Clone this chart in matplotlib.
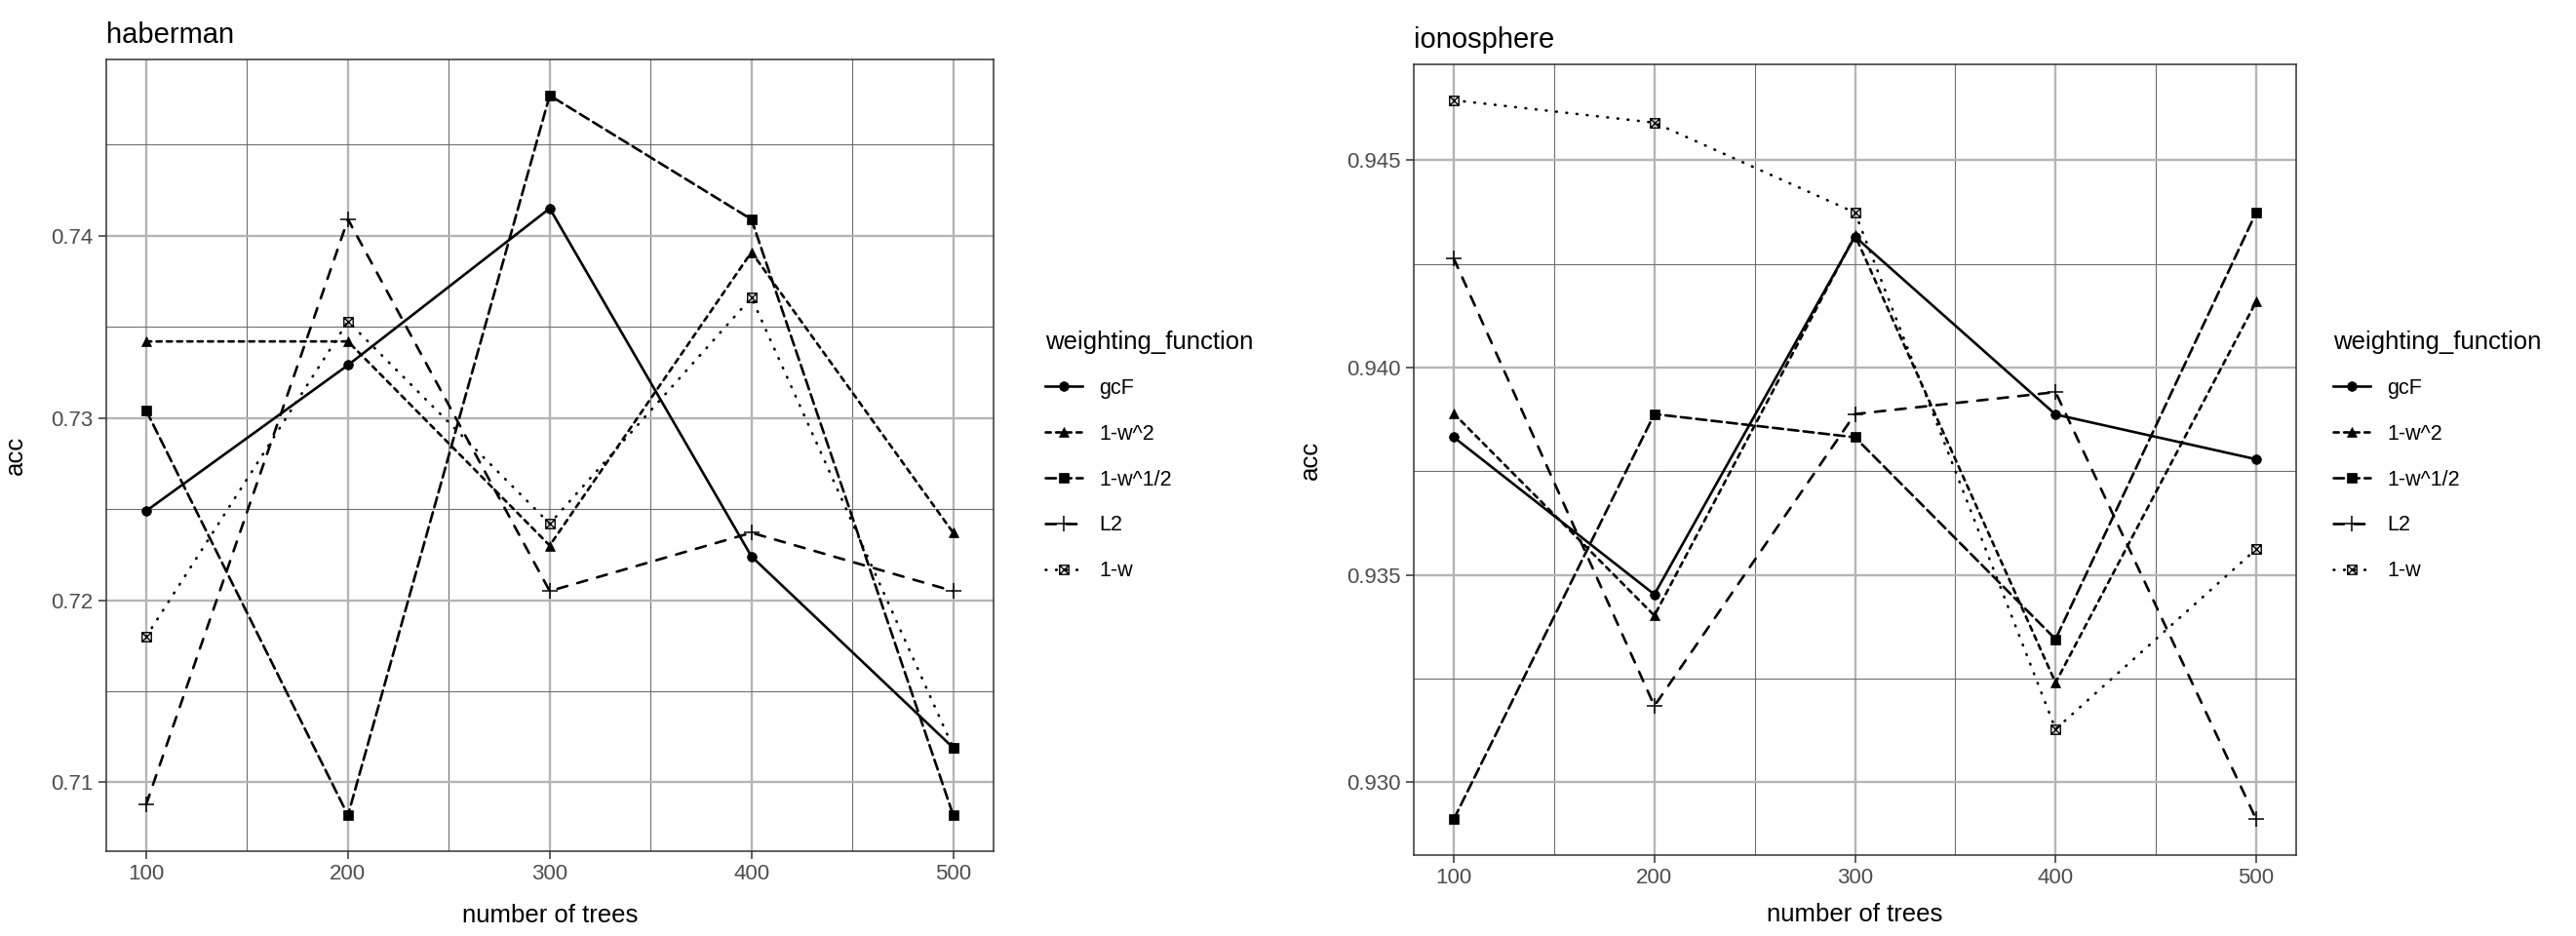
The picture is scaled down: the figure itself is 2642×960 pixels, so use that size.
import matplotlib
matplotlib.use("Agg")
import matplotlib.pyplot as plt
from matplotlib.path import Path
from matplotlib.ticker import MultipleLocator, FormatStrFormatter

plt.rcParams['font.family'] = ['Liberation Sans', 'DejaVu Sans']

# data
trees = [100, 200, 300, 400, 500]
functions = ["gcF", "1-w^2", "1-w^1/2", "L2", "1-w"]

haberman_gcF = [0.7249, 0.7329, 0.7415, 0.7224, 0.7119]
haberman_w2 = [0.7342, 0.7342, 0.7230, 0.7391, 0.7237]
haberman_wsqrt = [0.7304, 0.7082, 0.7477, 0.7409, 0.7082]
haberman_L2 = [0.7088, 0.7409, 0.7205, 0.7237, 0.7205]
haberman_w = [0.7180, 0.7353, 0.7242, 0.7366, 0.7119]

iono_gcF = [0.93832, 0.93453, 0.94316, 0.93887, 0.93779]
iono_w2 = [0.93889, 0.93402, 0.94319, 0.93240, 0.94159]
iono_wsqrt = [0.92911, 0.93888, 0.93832, 0.93345, 0.94374]
iono_L2 = [0.94263, 0.93184, 0.93888, 0.93941, 0.92911]
iono_w = [0.94645, 0.94591, 0.94374, 0.93128, 0.93562]

# square with a cross (ggplot shape 7)
M, L, C = Path.MOVETO, Path.LINETO, Path.CLOSEPOLY
box_x = Path([(-1, -1), (1, -1), (1, 1), (-1, 1), (-1, -1),
              (-1, -1), (1, 1), (-1, 1), (1, -1)],
             [M, L, L, L, C, M, L, M, L])

styles = {
    "gcF":     dict(ls="-",             marker="o",   ms=7.0, mew=0.5, mfc="black"),
    "1-w^2":   dict(ls=(0, (2, 2)),     marker="^",   ms=7.8, mew=0.5, mfc="black"),
    "1-w^1/2": dict(ls=(0, (4, 2)),     marker="s",   ms=6.6, mew=0.5, mfc="black"),
    "L2":      dict(ls=(0, (4, 4)),     marker="+",   ms=11.5, mew=1.1, mfc="black"),
    "1-w":     dict(ls=(0, (0.3, 3.7)), marker=box_x, ms=6.8, mew=1.0, mfc="none"),
}

fig = plt.figure(figsize=(26.42, 9.6), dpi=100)
ax1 = fig.add_axes([0.0411, 0.0906, 0.3446, 0.8459])
ax2 = fig.add_axes([0.5488, 0.0865, 0.3426, 0.8448])

panels = [
    (ax1, "haberman", [haberman_gcF, haberman_w2, haberman_wsqrt, haberman_L2, haberman_w],
     0.01, "%.2f", 0.4025, -0.089, -0.066),
    (ax2, "ionosphere", [iono_gcF, iono_w2, iono_wsqrt, iono_L2, iono_w],
     0.005, "%.3f", 0.9025, -0.104, -0.061),
]

for ax, name, series, step, fmt, leg_x, ylab_x, xlab_y in panels:
    for f, ys in zip(functions, series):
        st = styles[f]
        ax.plot(trees, ys, color="black", lw=1.9, ls=st["ls"],
                dash_capstyle="round", marker=st["marker"], ms=st["ms"],
                mew=st["mew"], mfc=st["mfc"], mec="black", label=f, zorder=3)
    ax.margins(x=0.05, y=0.05)
    ax.xaxis.set_major_locator(MultipleLocator(100))
    ax.xaxis.set_minor_locator(MultipleLocator(50))
    ax.yaxis.set_major_locator(MultipleLocator(step))
    ax.yaxis.set_minor_locator(MultipleLocator(step / 2))
    ax.yaxis.set_major_formatter(FormatStrFormatter(fmt))
    ax.grid(which="major", color="#b5b5b5", lw=1.7, zorder=0)
    ax.grid(which="minor", color="#6e6e6e", lw=0.8, zorder=0)
    ax.set_axisbelow(True)
    ax.tick_params(which="major", length=5.5, width=1.1, color="#333333",
                   labelsize=16, labelcolor="#4d4d4d", pad=4)
    ax.tick_params(which="minor", length=0)
    for sp in ax.spines.values():
        sp.set_color("#333333")
        sp.set_linewidth(1.1)
    ax.set_title(name, loc="left", fontsize=21, pad=12)
    ax.set_xlabel("number of trees", fontsize=18.5)
    ax.set_ylabel("acc", fontsize=18.5)
    ax.yaxis.set_label_coords(ylab_x, 0.5)
    ax.xaxis.set_label_coords(0.5, xlab_y)
    leg = ax.legend(title="weighting_function", loc="center left",
                    bbox_to_anchor=(leg_x, 0.513), bbox_transform=fig.transFigure,
                    frameon=False, fontsize=15.5, title_fontsize=18.5,
                    handlelength=1.75, handletextpad=0.8, labelspacing=1.2,
                    numpoints=1, alignment="left", borderaxespad=0)
    leg._legend_box.sep = 18

fig.savefig("out.png", dpi=100, facecolor="white")
